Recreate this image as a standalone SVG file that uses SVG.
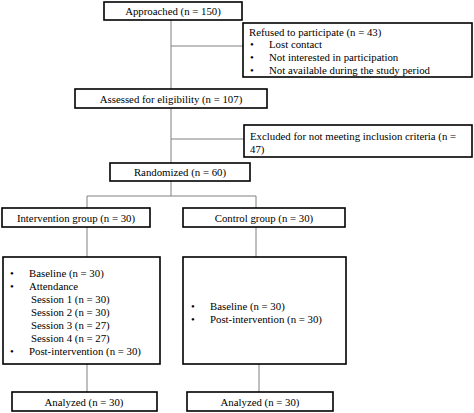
<svg xmlns="http://www.w3.org/2000/svg" width="474" height="413" viewBox="0 0 474 413">
<style>
.box{fill:#fff;stroke:#000;stroke-width:1.6}
.con{fill:none;stroke:#808080;stroke-width:1}
text{font-family:"Liberation Serif","Times New Roman",serif;font-size:10.8px;fill:#000}
.c{text-anchor:middle}
</style>
<rect width="474" height="413" fill="#fff"/>
<g id="connectors">
<path class="con" d="M171,20 V89 M171,46 H243 M171,108 V163 M171,139 H244 M171,181 V196 M87,196 H256 M87,196 V208 M256,196 V208 M87,227 V257 M256,227 V257 M87,364 V392 M259,364 V392"/>
</g>
<g id="approached"><rect class="box" x="104" y="2" width="138" height="18"/><text class="c" x="173" y="15">Approached (n = 150)</text></g>
<g id="refused"><rect class="box" x="243" y="23" width="229" height="54"/>
<text x="249" y="36">Refused to participate (n = 43)</text>
<text x="250" y="48">•</text><text x="269" y="48">Lost contact</text>
<text x="250" y="61">•</text><text x="269" y="61">Not interested in participation</text>
<text x="250" y="74">•</text><text x="269" y="74">Not available during the study period</text></g>
<g id="assessed"><rect class="box" x="75" y="89" width="192" height="19"/><text class="c" x="171" y="103">Assessed for eligibility (n = 107)</text></g>
<g id="excluded"><rect class="box" x="244" y="125" width="228" height="32"/>
<text x="250" y="140">Excluded for not meeting inclusion criteria (n =</text>
<text x="250" y="153">47)</text></g>
<g id="randomized"><rect class="box" x="110" y="163" width="140" height="18"/><text class="c" x="180" y="176">Randomized (n = 60)</text></g>
<g id="intervention"><rect class="box" x="2" y="208" width="148" height="19"/><text class="c" x="76" y="222">Intervention group (n = 30)</text></g>
<g id="control"><rect class="box" x="183" y="208" width="162" height="19"/><text class="c" x="264" y="222">Control group (n = 30)</text></g>
<g id="intervention-detail"><rect class="box" x="3" y="257" width="157" height="107"/>
<text x="10" y="277">•</text><text x="29" y="277">Baseline (n = 30)</text>
<text x="10" y="290">•</text><text x="29" y="290">Attendance</text>
<text x="31" y="303">Session 1 (n = 30)</text>
<text x="31" y="316">Session 2 (n = 30)</text>
<text x="31" y="329">Session 3 (n = 27)</text>
<text x="31" y="342">Session 4 (n = 27)</text>
<text x="10" y="355">•</text><text x="29" y="355">Post-intervention (n = 30)</text></g>
<g id="control-detail"><rect class="box" x="183" y="257" width="163" height="107"/>
<text x="191" y="310">•</text><text x="210" y="310">Baseline (n = 30)</text>
<text x="191" y="323">•</text><text x="210" y="323">Post-intervention (n = 30)</text></g>
<g id="analyzed-intervention"><rect class="box" x="12" y="392" width="145" height="19"/><text class="c" x="84" y="406">Analyzed (n = 30)</text></g>
<g id="analyzed-control"><rect class="box" x="187" y="392" width="146" height="19"/><text class="c" x="260" y="406">Analyzed (n = 30)</text></g>
</svg>
